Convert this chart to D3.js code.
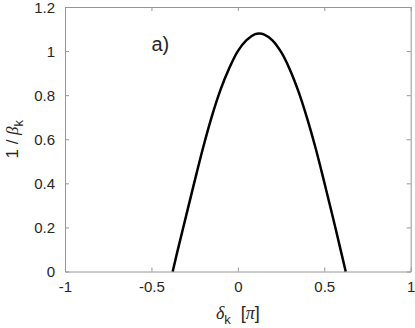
<!DOCTYPE html>
<html>
<head>
<meta charset="utf-8">
<title>1 / beta_k</title>
<script src="https://cdn.jsdelivr.net/npm/d3@7"></script>
<style>
body { margin: 0; background: #fff; }
text { font-family: "Liberation Sans", Arial, sans-serif; fill: #262626; }
.greek { font-family: "Liberation Serif", serif; font-style: italic; }
</style>
</head>
<body>
<div id="chart"></div>
<script>
// values
const deltaK = [-0.377, -0.35, -0.3, -0.25, -0.2, -0.15, -0.1, -0.05, 0, 0.05, 0.1, 0.125,
                0.15, 0.2, 0.25, 0.3, 0.35, 0.4, 0.45, 0.5, 0.55, 0.6, 0.624];
const invBeta = [0, 0.09, 0.25, 0.41, 0.565, 0.705, 0.825, 0.922, 1.0, 1.05, 1.077, 1.08,
                 1.076, 1.049, 0.996, 0.918, 0.818, 0.697, 0.559, 0.405, 0.245, 0.08, 0];
const xTicks = [-1, -0.5, 0, 0.5, 1];
const yTicks = [0, 0.2, 0.4, 0.6, 0.8, 1, 1.2];

const W = 415, H = 328;
const margin = {top: 7, right: 4.3, bottom: 56.5, left: 65};
const w = W - margin.left - margin.right;
const h = H - margin.top - margin.bottom;

const svg = d3.select("#chart").append("svg")
    .attr("width", W).attr("height", H);

const g = svg.append("g")
    .attr("transform", `translate(${margin.left},${margin.top})`);

const x = d3.scaleLinear().domain([-1, 1]).range([0, w]);
const y = d3.scaleLinear().domain([0, 1.2]).range([h, 0]);

//
// axes: inward ticks on all four sides, MATLAB style box
//
function styleAxis(sel) {
    sel.selectAll("path.domain").attr("stroke", "#969696");
    sel.selectAll(".tick line").attr("stroke", "#969696");
    sel.selectAll(".tick text").style("font-size", "15px").attr("fill", "#262626");
}

g.append("g").attr("transform", `translate(0,${h})`)
    .call(d3.axisBottom(x).tickValues(xTicks).tickSizeInner(-4).tickSizeOuter(0)
        .tickPadding(10).tickFormat(d => String(d)))
    .call(styleAxis);

g.append("g")
    .call(d3.axisTop(x).tickValues(xTicks).tickSizeInner(-4).tickSizeOuter(0).tickFormat(""))
    .call(styleAxis);

g.append("g")
    .call(d3.axisLeft(y).tickValues(yTicks).tickSizeInner(-4).tickSizeOuter(0)
        .tickPadding(10).tickFormat(d => String(d)))
    .call(styleAxis)
    .selectAll(".tick text").attr("dy", "0.36em");

g.append("g").attr("transform", `translate(${w},0)`)
    .call(d3.axisRight(y).tickValues(yTicks).tickSizeInner(-4).tickSizeOuter(0).tickFormat(""))
    .call(styleAxis);

g.selectAll(".domain").attr("stroke-width", 1);

// curve
const pts = deltaK.map((d, i) => [d, invBeta[i]]);
g.append("path")
    .datum(pts)
    .attr("fill", "none")
    .attr("stroke", "#000")
    .attr("stroke-width", 2.5)
    .attr("d", d3.line().x(d => x(d[0])).y(d => y(d[1])).curve(d3.curveCatmullRom));

// panel label
g.append("text")
    .attr("x", x(-0.5)).attr("y", y(1))
    .style("font-size", "20px")
    .attr("fill", "#000")
    .text("a)");

// x label
const xl = svg.append("text")
    .attr("x", margin.left + w / 2).attr("y", 319)
    .attr("text-anchor", "middle")
    .attr("xml:space", "preserve")
    .style("font-size", "18px");
xl.append("tspan").attr("class", "greek").text("δ");
xl.append("tspan").attr("dy", 5).style("font-size", "13px").text("k");
xl.append("tspan").attr("dy", -5).text("  [");
xl.append("tspan").attr("class", "greek").text("π");
xl.append("tspan").text("]");

// y label
const yl = svg.append("text")
    .attr("transform", `translate(18,${margin.top + h / 2}) rotate(-90)`)
    .attr("text-anchor", "middle")
    .style("font-size", "17px")
    .attr("xml:space", "preserve");
yl.append("tspan").text("1 / ");
yl.append("tspan").attr("class", "greek").text("β");
yl.append("tspan").attr("dy", 5).style("font-size", "13px").text("k");
</script>
</body>
</html>
